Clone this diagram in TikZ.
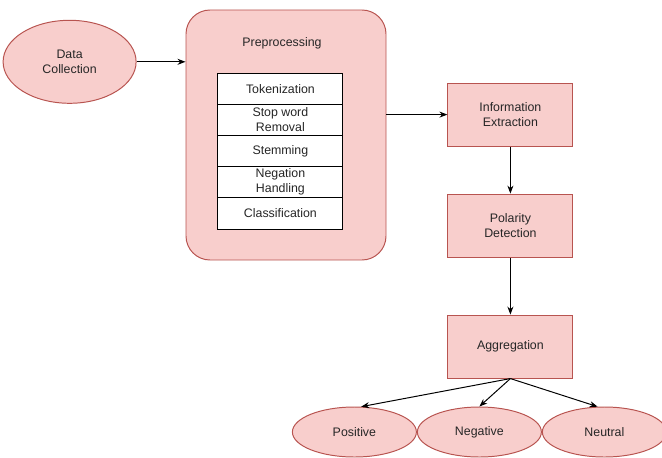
\documentclass[tikz,border=0pt]{standalone}
\usepackage{fontspec}
\setmainfont{Liberation Sans}
\usetikzlibrary{positioning}
\usetikzlibrary{shapes.geometric}
\usetikzlibrary{arrows.meta}

\definecolor{boxfill}{HTML}{F8CECC}
\definecolor{boxline}{HTML}{B85450}

\tikzset{
    stagebox/.style={draw=boxline, fill=boxfill, line width=0.7pt, minimum width=3.125cm, minimum height=1.575cm, align=center, text=black!85, font=\fontsize{8.8}{10.6}\selectfont},
    ovalnode/.style={ellipse, draw=boxline, fill=boxfill, line width=0.7pt, inner sep=0pt, align=center, text=black!85, font=\fontsize{8.8}{10.6}\selectfont},
    steprow/.style={draw=black, fill=white, line width=0.7pt, outer sep=0pt, minimum width=3.125cm, minimum height=0.78cm, inner sep=1pt, align=center, text=black!85, font=\fontsize{8.8}{10.6}\selectfont},
    flowarrow/.style={line width=0.7pt, -{Stealth[length=2mm]}}
}

\begin{document}
\begin{tikzpicture}[scale=1]
    \useasboundingbox (0, 0) rectangle (16.55, 11.425);

    \node[ovalnode, minimum width=3.325cm, minimum height=2.075cm] (datacol) at (1.74, 9.88) {Data\\Collection};

    \node[stagebox, rounded corners=0.6cm, minimum width=5cm, minimum height=6.25cm] (prep) at (7.15, 8.05) {};
    \node[text=black!85, font=\fontsize{8.8}{10.6}\selectfont] (preplabel) at (7.05, 10.35) {Preprocessing};

    \node[steprow] (tok) at (7.01, 9.21) {Tokenization};
    \node[steprow, below=0pt of tok] (stopw) {Stop word\\Removal};
    \node[steprow, below=0pt of stopw] (stem) {Stemming};
    \node[steprow, below=0pt of stem] (negh) {Negation\\Handling};
    \node[steprow, below=0pt of negh] (classif) {Classification};

    \node[stagebox] (infoext) at (12.76, 8.56) {Information\\Extraction};
    \node[stagebox, below=1.175cm of infoext] (polarity) {Polarity\\Detection};
    \node[stagebox, below=1.425cm of polarity] (aggr) {Aggregation};

    \node[ovalnode, minimum width=3.1cm, minimum height=1.25cm] (positive) at (8.86, 0.625) {Positive};
    \node[ovalnode, minimum width=3.1cm, minimum height=1.25cm, right=0pt of positive] (negative) {Negative};
    \node[ovalnode, minimum width=3.1cm, minimum height=1.25cm, right=0pt of negative] (neutral) {Neutral};

    \draw[flowarrow] (datacol.east) -- (datacol.east -| prep.west);
    \draw[flowarrow] (prep.east |- infoext.west) -- (infoext.west);
    \draw[flowarrow] (infoext.south) -- (polarity.north);
    \draw[flowarrow] (polarity.south) -- (aggr.north);
    \draw[flowarrow] (aggr.south) -- (positive.75);
    \draw[flowarrow] (aggr.south) -- (negative.north);
    \draw[flowarrow] (aggr.south) -- (neutral.105);
\end{tikzpicture}
\end{document}
